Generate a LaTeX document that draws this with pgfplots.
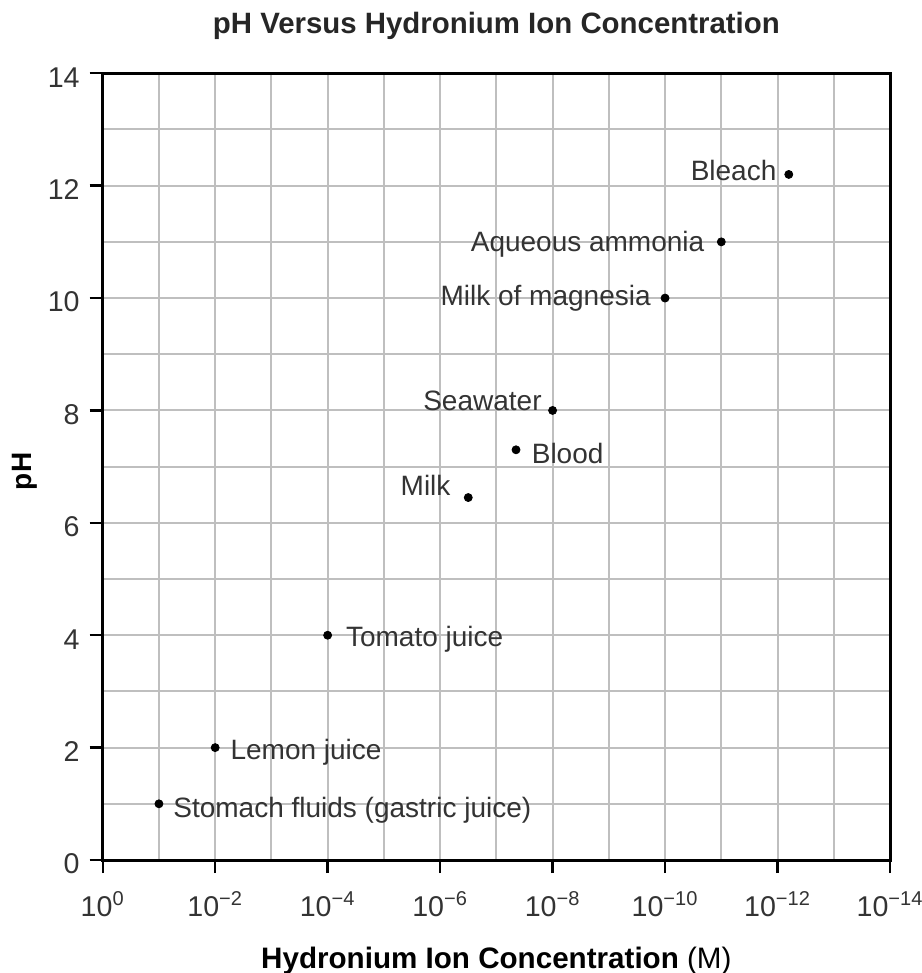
\documentclass[border=0pt]{standalone}
\usepackage{fontspec}
\setmainfont{Liberation Sans}
\usepackage{pgfplots}
\pgfplotsset{compat=1.18}
\usepackage{pgfplotstable}

% x = [H3O+] in M, y = pH
\pgfplotstableread[col sep=comma]{
x,y
1e-1,1
1e-2,2
1e-4,4
3.16e-7,6.45
4.47e-8,7.3
1e-8,8
1e-10,10
1e-11,11
6.31e-13,12.2
}\phdata

\begin{document}
\begin{tikzpicture}[lbl/.style={inner sep=0pt, font=\fontsize{14}{16}\selectfont, text=black!80}]
\useasboundingbox (-51.35pt,-56.5pt) rectangle (409.15pt,430pt);
\begin{axis}[
  at={(0,0)}, anchor=south west,
  scale only axis, width=393.65pt, height=393.35pt,
  clip=false,
  xmode=log, x dir=reverse,
  xmin=1e-14, xmax=1, ymin=0, ymax=14,
  xtick={1,1e-2,1e-4,1e-6,1e-8,1e-10,1e-12,1e-14},
  xticklabels={10\textsuperscript{0},10\textsuperscript{−2},10\textsuperscript{−4},10\textsuperscript{−6},10\textsuperscript{−8},10\textsuperscript{−10},10\textsuperscript{−12},10\textsuperscript{−14}},
  minor xtick={1e-1,1e-3,1e-5,1e-7,1e-9,1e-11,1e-13},
  ytick={0,2,...,14},
  minor ytick={1,3,...,13},
  grid=both,
  major grid style={gray!50, line width=1pt},
  minor grid style={gray!50, line width=1pt},
  axis line style={black, line width=1.5pt},
  tick align=outside, xtick pos=left, ytick pos=left,
  major tick length=6.5pt, minor tick length=0pt,
  every tick/.style={black, line width=1.2pt},
  tick label style={font=\fontsize{14.3}{16}\selectfont, text=black!80},
  xticklabel style={anchor=base, yshift=-21.5pt},
  yticklabel style={xshift=-1.5pt, yshift=-2pt},
  /pgf/number format/assume math mode=true,
  xlabel={\textbf{Hydronium Ion Concentration} (M)},
  xlabel style={font=\fontsize{14.8}{17}\selectfont, at={(0.5,-0.1373)}, anchor=base},
  ylabel={\textbf{pH}},
  ylabel style={font=\fontsize{14}{16}\selectfont, at={(-0.0988,0.494)}, anchor=center},
]
\addplot[only marks, mark=*, mark size=2pt, black] table[x=x, y=y]{\phdata};

\node[lbl, anchor=west, xshift=7pt, yshift=-3pt] at (axis cs:1e-1,1) {Stomach fluids (gastric juice)};
\node[lbl, anchor=west, xshift=7.5pt, yshift=-2.5pt] at (axis cs:1e-2,2) {Lemon juice};
\node[lbl, anchor=west, xshift=9pt, yshift=-2pt] at (axis cs:1e-4,4) {Tomato juice};
\node[lbl, anchor=east, xshift=-8.7pt, yshift=6pt] at (axis cs:3.16e-7,6.45) {Milk};
\node[lbl, anchor=west, xshift=7.7pt, yshift=-2pt] at (axis cs:4.47e-8,7.3) {Blood};
\node[lbl, anchor=east, xshift=-5.3pt, yshift=5pt] at (axis cs:1e-8,8) {Seawater};
\node[lbl, anchor=east, xshift=-7pt] at (axis cs:1e-10,10) {Milk of magnesia};
\node[lbl, anchor=east, xshift=-8.3pt, yshift=-1pt] at (axis cs:1e-11,11) {Aqueous ammonia};
\node[lbl, anchor=east, xshift=-6pt, yshift=2pt] at (axis cs:6.31e-13,12.2) {Bleach};

\node[anchor=base, font=\fontsize{14.7}{17}\selectfont\bfseries, text=black!85]
  at (rel axis cs:0.5,1.0512) {pH Versus Hydronium Ion Concentration};
\end{axis}
\end{tikzpicture}
\end{document}
